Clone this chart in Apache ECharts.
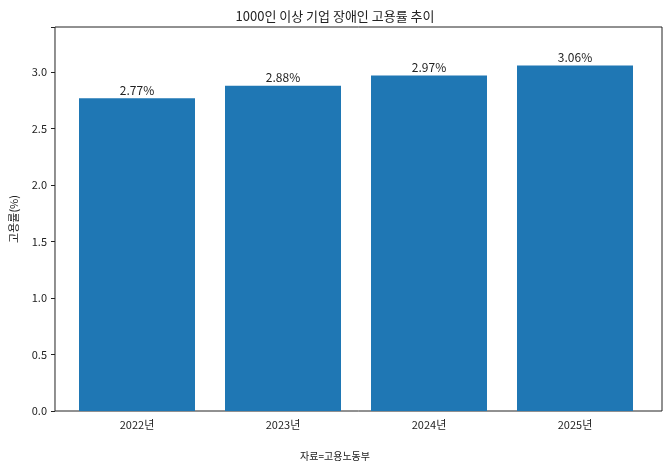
<!DOCTYPE html>
<html><head><meta charset="utf-8">
<script src="https://cdn.jsdelivr.net/npm/echarts@6/dist/echarts.min.js"></script>
</head><body style="margin:0">
<div id="c" style="width:670px;height:468px"></div>
<script>
var years = ['2022년', '2023년', '2024년', '2025년'];
var rates = [2.77, 2.88, 2.97, 3.06];
var font = 'Noto Sans CJK KR';
var chart = echarts.init(document.getElementById('c'));
chart.setOption({
  textStyle: {fontFamily: font},
  title: [
    {text: '1000인 이상 기업 장애인 고용률 추이', left: 'center', top: 5,
     textStyle: {fontFamily: font, fontSize: 13, fontWeight: 'normal', color: '#222'}},
    {text: '자료=고용노동부', left: 'center', top: 446,
     textStyle: {fontFamily: font, fontSize: 10, fontWeight: 'normal', color: '#222'}}
  ],
  grid: [
    {left: 52, right: 8, top: 27, bottom: 57, show: true, borderColor: '#222', borderWidth: 1, backgroundColor: 'transparent'},
    {left: 64, right: 22, top: 27, bottom: 57}
  ],
  xAxis: [
    {gridIndex: 0, type: 'value', show: false, min: 0, max: 1},
    {gridIndex: 1, type: 'category', data: years,
     axisLine: {show: false}, axisTick: {alignWithLabel: true, length: 4, lineStyle: {color: '#222'}},
     axisLabel: {color: '#222', fontSize: 11, margin: 8}}
  ],
  yAxis: [
    {gridIndex: 0, type: 'value', min: 0, max: 3.4, interval: 0.5,
     name: '고용률(%)', nameLocation: 'middle', nameGap: 36, nameRotate: 90,
     nameTextStyle: {color: '#222', fontSize: 11},
     axisLine: {show: false}, axisTick: {show: true, length: 4, lineStyle: {color: '#222'}},
     splitLine: {show: false},
     axisLabel: {color: '#222', fontSize: 11, formatter: function (v) { return v > 3.2 ? '' : v.toFixed(1); }}},
    {gridIndex: 1, type: 'value', min: 0, max: 3.4, show: false}
  ],
  series: [{
    type: 'bar', xAxisIndex: 1, yAxisIndex: 1, data: rates, barWidth: 116,
    itemStyle: {color: '#1f77b4'},
    label: {show: true, position: 'top', distance: 2, color: '#222', fontSize: 12,
            formatter: function (p) { return p.value.toFixed(2) + '%'; }}
  }]
});
</script>
</body></html>
